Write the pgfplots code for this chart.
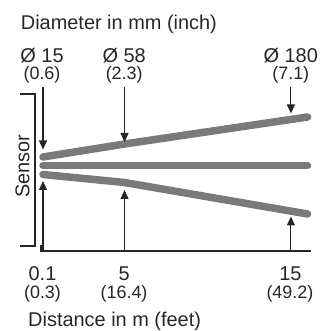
\documentclass[border=0pt]{standalone}
\usepackage{pgfplots}
\pgfplotsset{compat=1.18}
\usepackage{fontspec}
\setmainfont{Liberation Sans}
\usetikzlibrary{arrows.meta}
\definecolor{beam}{HTML}{7A7A7C}
\definecolor{ink}{HTML}{262626}
\begin{document}
\begin{tikzpicture}
\begin{axis}[
  scale only axis, width=322bp, height=331bp,
  xmin=-2.4844, xmax=16.8666, ymin=-165.5, ymax=165.5,
  hide axis, clip=false,
]
% beams (distance in m, schematic half-diameter)
\addplot[color=beam, line width=7.5bp, line cap=round, line join=round] coordinates {(0.1,8.5) (5,21.5) (16,48.5)};
\addplot[color=beam, line width=7.5bp, line cap=round, line join=round] coordinates {(0.1,0) (16,0)};
\addplot[color=beam, line width=7.5bp, line cap=round, line join=round] coordinates {(0.1,-9) (5,-17) (16,-48.5)};
% guide lines with arrows
\addplot[ink, line width=1.1bp, -{Triangle[length=9bp,width=8bp]}] coordinates {(0.1,78.5) (0.1,16)};
\addplot[ink, line width=1.1bp, -{Triangle[length=9bp,width=8bp]}] coordinates {(0.1,-85.5) (0.1,-15.5)};
\addplot[ink, line width=1.1bp, -{Triangle[length=9bp,width=8bp]}] coordinates {(5,78.5) (5,23.5)};
\addplot[ink, line width=1.1bp, -{Triangle[length=9bp,width=8bp]}] coordinates {(5,-85.5) (5,-24.5)};
\addplot[ink, line width=1.1bp, -{Triangle[length=9bp,width=8bp]}] coordinates {(15,78.5) (15,52)};
\addplot[ink, line width=1.1bp, -{Triangle[length=9bp,width=8bp]}] coordinates {(15,-85.5) (15,-51)};
% distance axis
\addplot[ink, line width=1.1bp] coordinates {(-0.02,-79.5) (-0.02,-85.5) (16.2,-85.5)};
% sensor bracket
\addplot[ink, line width=1.1bp] coordinates {(-1.28,71.5) (-0.381,71.5) (-0.381,-80.5) (-1.28,-80.5)};
\node[rotate=90, ink, font=\fontsize{20}{24}\selectfont, inner sep=0pt] at (axis cs:-1.132,-0.5) {Sensor};
% texts
\node[anchor=base west, ink, font=\fontsize{20}{24}\selectfont, inner sep=0pt] at (axis cs:-1.24,136.2) {Diameter in mm (inch)};
\node[anchor=north, align=center, ink, font=\fontsize{20}{17.5}\selectfont, inner sep=0pt] at (axis cs:0.04,117.5) {Ø 15\\{\fontsize{18}{17.5}\selectfont(0.6)}};
\node[anchor=north, align=center, ink, font=\fontsize{20}{17.5}\selectfont, inner sep=0pt] at (axis cs:4.98,117.5) {Ø 58\\{\fontsize{18}{17.5}\selectfont(2.3)}};
\node[anchor=north, align=center, ink, font=\fontsize{20}{17.5}\selectfont, inner sep=0pt] at (axis cs:14.99,117.5) {Ø 180\\{\fontsize{18}{17.5}\selectfont(7.1)}};
\node[anchor=base, ink, font=\fontsize{20}{24}\selectfont, inner sep=0pt] at (axis cs:0.07,-114.8) {0.1};
\node[anchor=base, ink, font=\fontsize{18}{22}\selectfont, inner sep=0pt] at (axis cs:0.07,-132.6) {(0.3)};
\node[anchor=base, ink, font=\fontsize{20}{24}\selectfont, inner sep=0pt] at (axis cs:4.97,-114.8) {5};
\node[anchor=base, ink, font=\fontsize{18}{22}\selectfont, inner sep=0pt] at (axis cs:4.97,-132.6) {(16.4)};
\node[anchor=base, ink, font=\fontsize{20}{24}\selectfont, inner sep=0pt] at (axis cs:14.97,-114.8) {15};
\node[anchor=base, ink, font=\fontsize{18}{22}\selectfont, inner sep=0pt] at (axis cs:14.94,-132.6) {(49.2)};
\node[anchor=base west, ink, font=\fontsize{20}{24}\selectfont, inner sep=0pt] at (axis cs:-0.80,-161.2) {Distance in m (feet)};
\coordinate (SW) at (rel axis cs:0,0);
\coordinate (NE) at (rel axis cs:1,1);
\end{axis}
\pgfresetboundingbox
\path (SW) rectangle (NE);
\end{tikzpicture}
\end{document}
